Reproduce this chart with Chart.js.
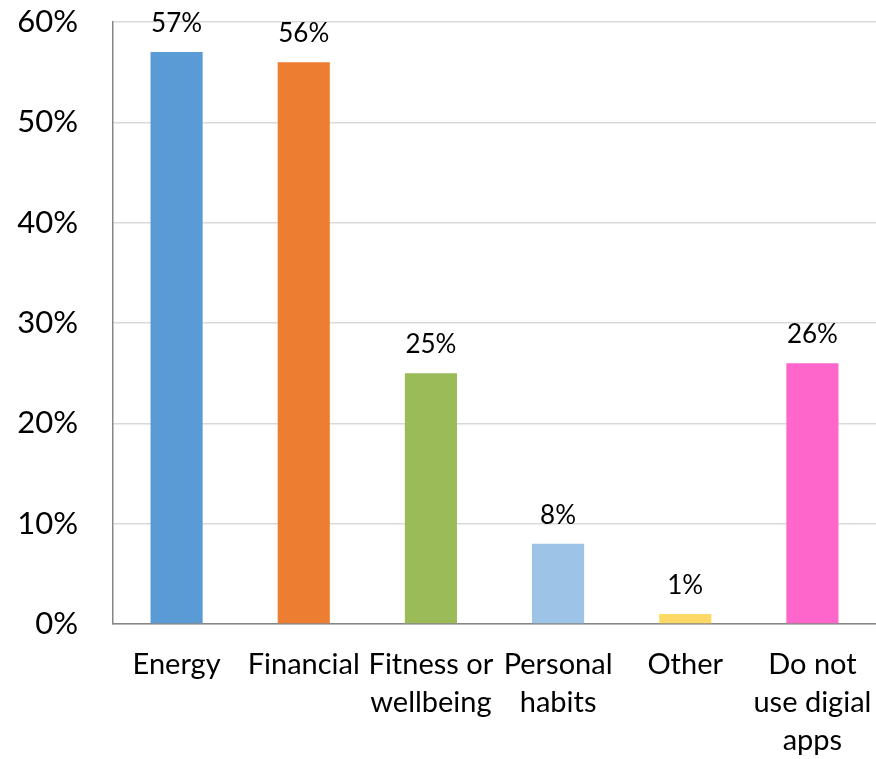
<!DOCTYPE html>
<html>
<head>
<meta charset="utf-8">
<script src="https://cdn.jsdelivr.net/npm/chart.js@4.4.0/dist/chart.umd.min.js"></script>
<style>
  html, body { margin: 0; padding: 0; background: #fff; }
  #wrap { width: 876px; height: 759px; }
</style>
</head>
<body>
<div id="wrap"><canvas id="myChart"></canvas></div>
<script>
const categories = [
  ["Energy"],
  ["Financial"],
  ["Fitness or", "wellbeing"],
  ["Personal", "habits"],
  ["Other"],
  ["Do not", "use digial", "apps"],
];
const shares = [57, 56, 25, 8, 1, 26];
const barColors = ["#5B9BD5", "#ED7D31", "#9BBB59", "#9DC3E6", "#FFD966", "#FF66CC"];
const yTicks = [0, 10, 20, 30, 40, 50, 60];

const fontFamily = "Lato, 'Noto Sans', sans-serif";

// draws the value above each bar
const valueLabels = {
  id: "valueLabels",
  afterDatasetsDraw(chart) {
    const ctx = chart.ctx;
    const meta = chart.getDatasetMeta(0);
    ctx.save();
    ctx.font = "26px " + fontFamily;
    ctx.fillStyle = "#000";
    ctx.textAlign = "center";
    ctx.textBaseline = "alphabetic";
    meta.data.forEach((bar, i) => {
      ctx.fillText(shares[i] + "%", bar.x, bar.y - 20);
    });
    ctx.restore();
  },
};

const config = {
  type: "bar",
  data: {
    labels: categories,
    datasets: [
      {
        data: shares,
        backgroundColor: barColors,
        barPercentage: 0.41,
        categoryPercentage: 1,
      },
    ],
  },
  options: {
    responsive: true,
    maintainAspectRatio: false,
    animation: false,
    layout: { padding: 0 },
    plugins: {
      legend: { display: false },
      tooltip: { enabled: false },
    },
    scales: {
      x: {
        grid: { display: false, drawTicks: false },
        border: { color: "#868686", width: 1.5 },
        ticks: {
          color: "#000",
          font: { family: fontFamily, size: 29, lineHeight: 1.3 },
          padding: 22,
          maxRotation: 0,
          autoSkip: false,
        },
        afterFit(scale) {
          scale.height = 135;
          scale.paddingLeft = 0;
          scale.paddingRight = 0;
        },
      },
      y: {
        min: 0,
        max: 60,
        afterBuildTicks(scale) {
          scale.ticks = yTicks.map((v) => ({ value: v }));
        },
        grid: { color: "#d9d9d9", lineWidth: 1.5, drawTicks: false },
        border: { color: "#868686", width: 1.5 },
        ticks: {
          color: "#000",
          font: { family: fontFamily, size: 31 },
          padding: 35,
          callback: (v) => v + "%",
        },
        afterFit(scale) {
          scale.width = 113;
          scale.paddingTop = 22;
          scale.paddingBottom = 0;
        },
      },
    },
  },
  plugins: [valueLabels],
};

new Chart(document.getElementById("myChart"), config);
</script>
</body>
</html>
